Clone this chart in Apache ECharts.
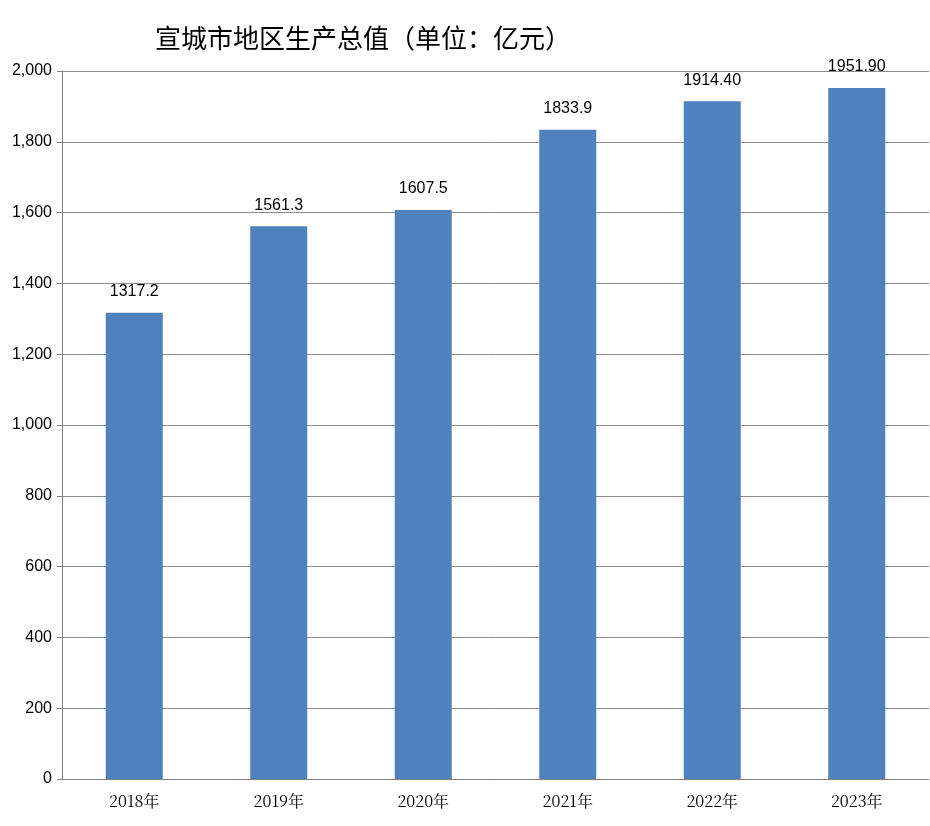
<!DOCTYPE html>
<html>
<head>
<meta charset="utf-8">
<script src="https://cdn.jsdelivr.net/npm/echarts@6/dist/echarts.min.js"></script>
</head>
<body style="margin:0;background:#fff">
<div id="container" style="width:930px;height:826px"></div>
<script>
var years = ['2018年', '2019年', '2020年', '2021年', '2022年', '2023年'];
var gdp = [1317.2, 1561.3, 1607.5, 1833.9, 1914.4, 1951.9];
var valueLabels = ['1317.2', '1561.3', '1607.5', '1833.9', '1914.40', '1951.90'];

var chart = echarts.init(document.getElementById('container'));
chart.setOption({
    animation: false,
    title: {
        text: '宣城市地区生产总值（单位：亿元）',
        left: 150, top: 20,
        textStyle: { fontSize: 26, fontWeight: 'normal', color: '#000', fontFamily: 'Noto Sans CJK SC' }
    },
    grid: { left: 62, right: 1, top: 71, bottom: 47 },
    xAxis: {
        type: 'category',
        data: years,
        axisLine: { lineStyle: { color: '#808080' } },
        axisTick: { length: 6, lineStyle: { color: '#808080' } },
        axisLabel: { color: '#000', fontSize: 16, margin: 14, fontFamily: 'Noto Serif CJK SC, Noto Sans CJK SC' }
    },
    yAxis: {
        type: 'value',
        min: 0, max: 2000, interval: 200,
        axisLine: { show: true, lineStyle: { color: '#808080' } },
        axisTick: { show: true, length: 5, lineStyle: { color: '#808080' } },
        splitLine: { lineStyle: { color: '#8c8c8c' } },
        axisLabel: { color: '#000', fontSize: 16, margin: 10, fontFamily: 'Liberation Sans' }
    },
    series: [{
        type: 'bar',
        data: gdp,
        barWidth: 57,
        itemStyle: { color: '#4f81bd' },
        label: {
            show: true, position: 'top', distance: 13,
            color: '#000', fontSize: 16, fontFamily: 'Liberation Sans',
            formatter: function (p) { return valueLabels[p.dataIndex]; }
        }
    }]
});
</script>
</body>
</html>
